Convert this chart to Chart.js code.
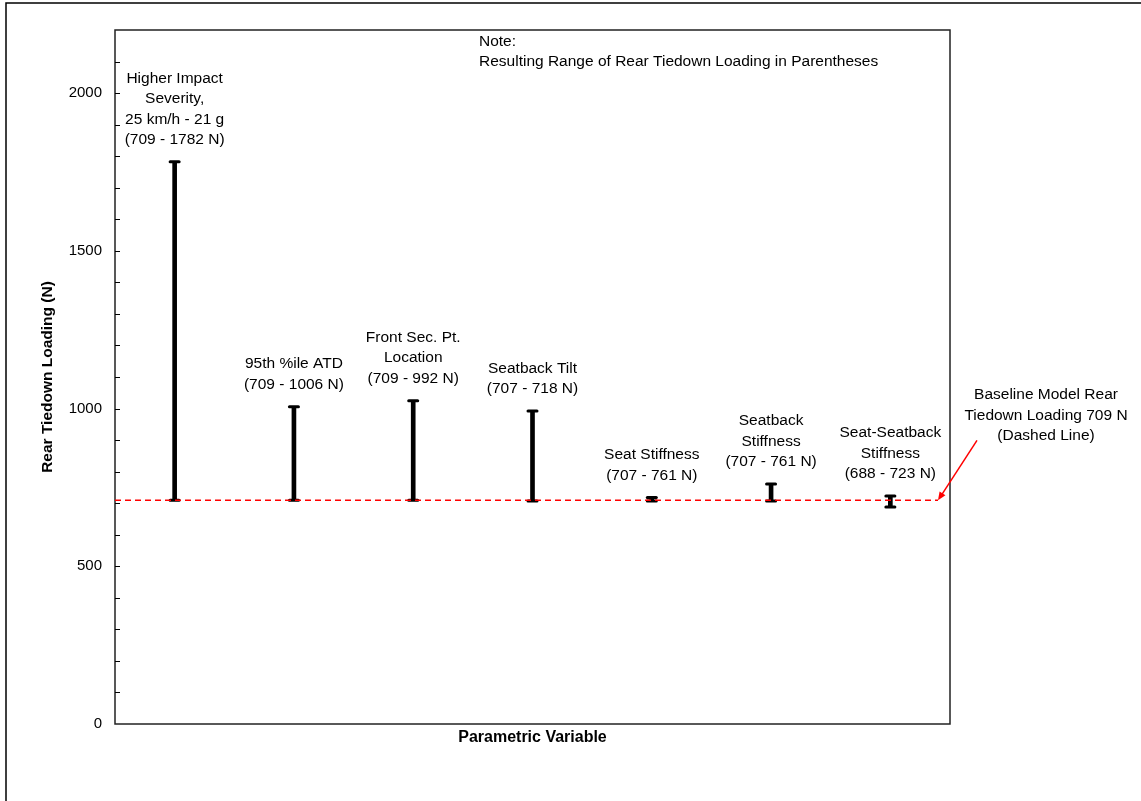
<!DOCTYPE html>
<html>
<head>
<meta charset="utf-8">
<script src="https://cdn.jsdelivr.net/npm/chart.js@4/dist/chart.umd.min.js"></script>
<style>
  html, body { margin: 0; padding: 0; background: #fff; }
  #wrap { width: 1141px; height: 801px; position: relative; }
</style>
</head>
<body>
<div id="wrap"><canvas id="chart"></canvas></div>
<script>
// data
const categories = ['Impact Severity', '95th ATD', 'Front Sec. Pt.', 'Seatback Tilt', 'Seat Stiffness', 'Seatback Stiffness', 'Seat-Seatback Stiffness']
const lows = [709, 709, 709, 707, 707, 707, 688]
const highs = [1782, 1006, 1025, 992, 718, 761, 723]
const barLabels = [
    ['Higher Impact', 'Severity,', '25 km/h - 21 g', '(709 - 1782 N)'],
    ['95th %ile ATD', '(709 - 1006 N)'],
    ['Front Sec. Pt.', 'Location', '(709 - 992 N)'],
    ['Seatback Tilt', '(707 - 718 N)'],
    ['Seat Stiffness', '(707 - 761 N)'],
    ['Seatback', 'Stiffness', '(707 - 761 N)'],
    ['Seat-Seatback', 'Stiffness', '(688 - 723 N)']
]
const baseline = 709
const yTicks = [0, 500, 1000, 1500, 2000]
const noteLines = ['Note:', 'Resulting Range of Rear Tiedown Loading in Parentheses']
const baselineNote = ['Baseline Model Rear', 'Tiedown Loading 709 N', '(Dashed Line)']

const FONT = '"Liberation Sans", Arial, sans-serif'

// frame, minor ticks, caps, dashed baseline and all the text notes
const extras = {
    id: 'extras',
    beforeDraw(chart) {
        const ctx = chart.ctx
        ctx.save()
        ctx.fillStyle = '#fff'
        ctx.fillRect(0, 0, chart.width, chart.height)
        ctx.strokeStyle = '#000'
        ctx.lineWidth = 1.5
        ctx.strokeRect(6, 3, chart.width + 10, chart.height + 10)
        ctx.restore()
    },
    afterDatasetsDraw(chart) {
        const ctx = chart.ctx
        const area = chart.chartArea
        const y = chart.scales.y
        const meta = chart.getDatasetMeta(0)

        ctx.save()
        // plot box
        ctx.strokeStyle = '#222'
        ctx.lineWidth = 1.5
        ctx.strokeRect(area.left, area.top, area.right - area.left, area.bottom - area.top)

        // inward ticks every 100
        ctx.lineWidth = 1
        ctx.strokeStyle = '#000'
        for (let v = 100; v < y.max; v += 100) {
            const py = Math.round(y.getPixelForValue(v)) + 0.5
            ctx.beginPath()
            ctx.moveTo(area.left, py)
            ctx.lineTo(area.left + 5, py)
            ctx.stroke()
        }

        // caps of the range bars
        ctx.lineWidth = 3
        ctx.lineCap = 'round'
        meta.data.forEach((bar, i) => {
            [lows[i], highs[i]].forEach(v => {
                const py = y.getPixelForValue(v)
                ctx.beginPath()
                ctx.moveTo(bar.x - 4.5, py)
                ctx.lineTo(bar.x + 4.5, py)
                ctx.stroke()
            })
        })

        // dashed baseline
        const by = y.getPixelForValue(baseline)
        const endX = area.right - 12
        ctx.lineCap = 'butt'
        ctx.strokeStyle = '#ff0000'
        ctx.lineWidth = 1.5
        ctx.setLineDash([6, 4])
        ctx.beginPath()
        ctx.moveTo(area.left, by)
        ctx.lineTo(endX, by)
        ctx.stroke()
        ctx.setLineDash([])

        // arrow to the baseline
        const sx = endX + 39, sy = by - 60
        ctx.lineWidth = 1.5
        ctx.beginPath()
        ctx.moveTo(sx, sy)
        ctx.lineTo(endX + 2, by - 3)
        ctx.stroke()
        const ang = Math.atan2(by - sy, endX - sx)
        ctx.fillStyle = '#ff0000'
        ctx.beginPath()
        ctx.moveTo(endX, by)
        ctx.lineTo(endX - 9 * Math.cos(ang - 0.4), by - 9 * Math.sin(ang - 0.4))
        ctx.lineTo(endX - 9 * Math.cos(ang + 0.4), by - 9 * Math.sin(ang + 0.4))
        ctx.closePath()
        ctx.fill()

        // labels above each bar
        ctx.fillStyle = '#000'
        ctx.font = '15.5px ' + FONT
        ctx.textAlign = 'center'
        ctx.textBaseline = 'middle'
        meta.data.forEach((bar, i) => {
            const lines = barLabels[i]
            const top = y.getPixelForValue(highs[i]) - 22
            lines.forEach((t, k) => {
                ctx.fillText(t, bar.x, top - (lines.length - 1 - k) * 20.5)
            })
        })

        // baseline note at the right
        baselineNote.forEach((t, k) => {
            ctx.fillText(t, 1046, 395 + k * 20.5)
        })

        // note at the top
        ctx.textAlign = 'left'
        noteLines.forEach((t, k) => {
            ctx.fillText(t, 479, 42 + k * 20)
        })
        ctx.restore()
    }
}

const ctx = document.getElementById('chart').getContext('2d')
const chart = new Chart(ctx, {
    type: 'bar',
    data: {
        labels: categories,
        datasets: [{
            label: 'Rear tiedown loading range',
            data: lows.map((lo, i) => [lo, highs[i]]),
            backgroundColor: '#000',
            borderWidth: 0,
            barThickness: 4,
            borderSkipped: false
        }]
    },
    options: {
        responsive: true,
        maintainAspectRatio: false,
        animation: false,
        layout: {
            padding: { top: 30, right: 191, left: 0, bottom: 0 }
        },
        plugins: {
            legend: { display: false },
            tooltip: { enabled: false }
        },
        scales: {
            x: {
                grid: { display: false },
                border: { display: false },
                ticks: { display: false },
                title: {
                    display: true,
                    text: 'Parametric Variable',
                    color: '#000',
                    font: { family: FONT, size: 16, weight: 'bold' },
                    padding: { top: 0, bottom: 54 }
                },
                afterFit(scale) { scale.height = 77 }
            },
            y: {
                min: 0,
                max: 2200,
                grid: { display: false, drawTicks: false },
                border: { display: false },
                ticks: {
                    color: '#000',
                    padding: 13,
                    font: { family: FONT, size: 15 },
                    callback: v => String(v)
                },
                afterBuildTicks(scale) {
                    scale.ticks = yTicks.map(v => ({ value: v }))
                },
                title: {
                    display: true,
                    text: 'Rear Tiedown Loading (N)',
                    color: '#000',
                    font: { family: FONT, size: 15.5, weight: 'bold' },
                    padding: { top: 38, bottom: 0 }
                },
                afterFit(scale) { scale.width = 115 }
            }
        }
    },
    plugins: [extras]
})
</script>
</body>
</html>
